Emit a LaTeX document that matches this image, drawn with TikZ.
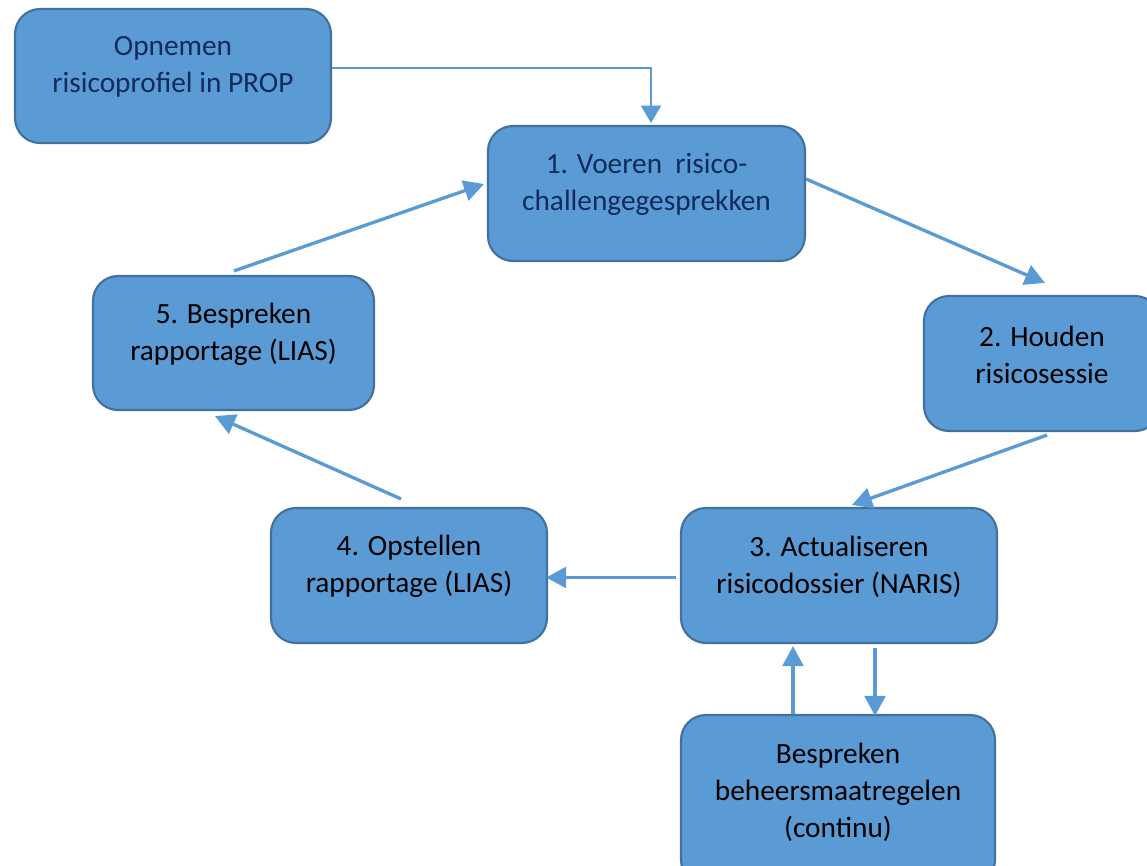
\documentclass[tikz,border=0pt]{standalone}
\usepackage{fontspec}
\setmainfont{Carlito}
\usetikzlibrary{arrows.meta,calc}
\definecolor{boxfill}{HTML}{5B9BD5}
\definecolor{boxline}{HTML}{41719C}
\definecolor{navytext}{HTML}{112B5C}
\tikzset{
  box/.style={draw=boxline, fill=boxfill, line width=1.6pt, rounded corners=18.75pt, inner sep=0pt},
  lbl/.style={align=center, font=\fontsize{22pt}{27.75pt}\selectfont, inner sep=0pt},
  conn/.style={draw=boxfill, line width=2.5pt, -{Triangle[length=15pt,width=15.5pt]}},
  thinconn/.style={draw=boxfill, line width=1.8pt, -{Triangle[length=13pt,width=15pt]}}
}
\begin{document}
\begin{tikzpicture}[x=0.75pt,y=-0.75pt]
\useasboundingbox (0,0) rectangle (1147,865);
% boxes
\node[box, minimum width=237pt, minimum height=100.5pt] (op) at (173,76) {};
\node[box, minimum width=237.75pt, minimum height=101.25pt] (b1) at (646.5,193.5) {};
\node[box, minimum width=177pt, minimum height=101.25pt] (b2) at (1042,363.5) {};
\node[box, minimum width=210.75pt, minimum height=100.5pt] (b5) at (233.5,343) {};
\node[box, minimum width=207pt, minimum height=101.25pt] (b4) at (409,575.5) {};
\node[box, minimum width=237pt, minimum height=101.25pt] (b3) at (839,575.5) {};
\node[box, minimum width=235.5pt, minimum height=127.5pt] (b6) at (838,800) {};
% labels
\node[lbl, text=navytext] (tOp) at ($(op.center)+(0,-9)$) {Opnemen\\risicoprofiel in PROP};
\node[lbl, text=navytext] (t1) at ($(b1.center)+(0,-9)$) {1. Voeren~~risico-\\challengegesprekken};
\node[lbl] (t2) at ($(b2.center)+(0,-9)$) {2. Houden\\risicosessie};
\node[lbl] (t5) at ($(b5.center)+(0,-9)$) {5. Bespreken\\rapportage (LIAS)};
\node[lbl] (t4) at ($(b4.center)+(0,-9)$) {4. Opstellen\\rapportage (LIAS)};
\node[lbl] (t3) at ($(b3.center)+(0,-9)$) {3. Actualiseren\\risicodossier (NARIS)};
\node[lbl] (t6) at ($(b6.center)+(0,-8)$) {Bespreken\\beheersmaatregelen\\(continu)};
% connectors
\draw[thinconn] ($(op.east)+(0,-8)$) -| ($(b1.north)+(4.5,-2)$);
\draw[conn] ($(b1.east)+(0,-14.5)$) -- ($(b2.north)+(3,-12)$);
\draw[conn] ($(b2.south)+(5,3)$) -- ($(b3.north)+(13,-2)$);
\draw[conn] ($(b3.west)+(-4,2)$) -- ($(b4.east)+(-2,2)$);
\draw[conn] ($(b4.north)+(-8,-8)$) -- ($(b5.south)+(-18.5,5)$);
\draw[conn] ($(b5.north)+(0.5,-4)$) -- ($(b1.west)+(-3,-9.5)$);
\draw[conn] ($(b3.south)+(36,4)$) -- ($(b6.north)+(37,2)$);
\draw[conn] ($(b6.north)+(-45,0)$) -- ($(b3.south)+(-46,2)$);
\end{tikzpicture}
\end{document}
